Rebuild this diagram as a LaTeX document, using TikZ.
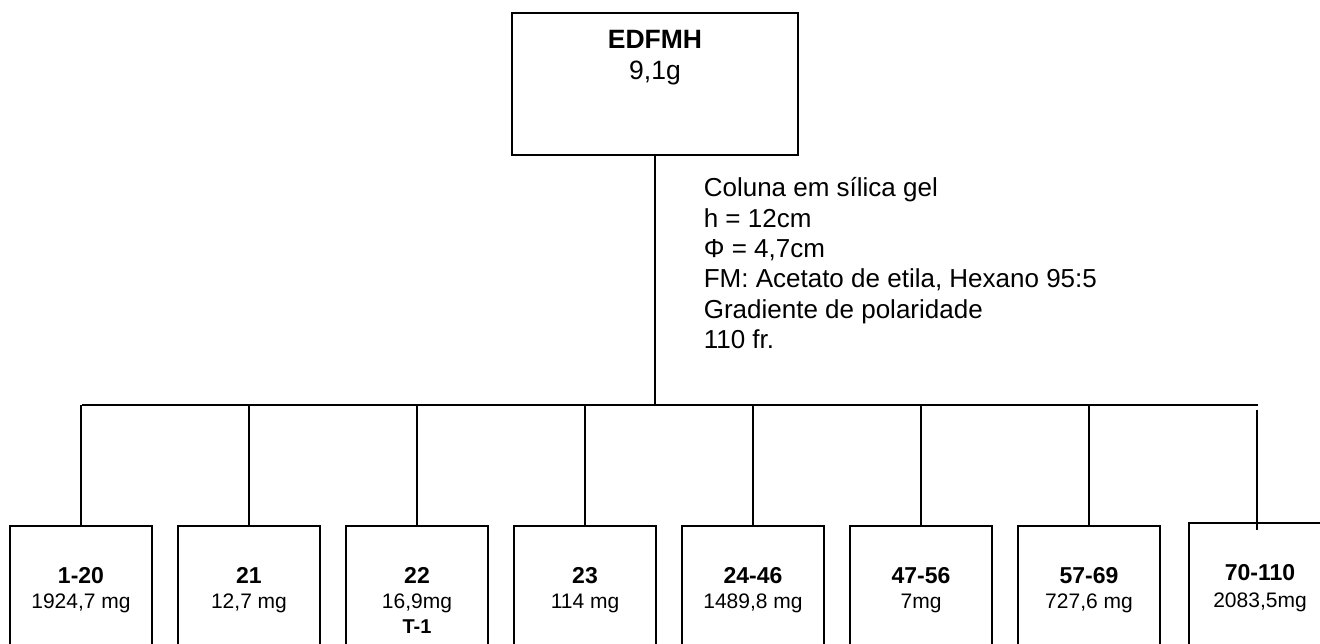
\documentclass[tikz,border=0pt]{standalone}
\usepackage{fontspec}
\setmainfont{Liberation Sans}
\begin{document}
\begin{tikzpicture}[x=1pt,y=-1pt,
  line width=1.6pt,
  box/.style={draw, line width=1.6pt, inner sep=0pt, minimum width=142pt, minimum height=140pt, anchor=north},
  big/.style={font=\fontsize{26}{30.3}\selectfont, inner sep=0pt},
  lab/.style={font=\fontsize{23}{26}\selectfont\bfseries, inner sep=0pt, anchor=base},
  val/.style={font=\fontsize{21}{25}\selectfont, inner sep=0pt, anchor=base},
  tag/.style={font=\fontsize{20}{24}\selectfont\bfseries, inner sep=0pt, anchor=base}]
\useasboundingbox (0,0) rectangle (1320,644);
\clip (0,0) rectangle (1320,644);
% top box
\node[draw, line width=1.6pt, minimum width=286pt, minimum height=142pt, inner sep=0pt] (top) at (655,84) {};
\node[big, anchor=base, font=\fontsize{26.5}{30.3}\selectfont\bfseries] (topa) at (655,49) {EDFMH};
\node[big, anchor=base, font=\fontsize{26.5}{30.3}\selectfont] (topb) at (655,80) {9,1g};
% column text
\foreach \t [count=\i from 0] in {Coluna em sílica gel, h = 12cm, Φ = 4{,}7cm, {FM: Acetato de etila, Hexano 95:5}, Gradiente de polaridade, 110 fr.}
  \node[big, anchor=base west] (col\i) at (703,197+30.3*\i) {\t};
% bus
\coordinate (busL) at (82,405);
\coordinate (busR) at (1258,405);
\coordinate (mid) at (655,405);
\draw (top.south) -- (mid);
\draw (busL) -- (busR);
% bottom boxes
\foreach \n/\a/\b [count=\k from 0] in {b1/1-20/{1924,7 mg}, b2/21/{12,7 mg}, b3/22/{16,9mg}, b4/23/{114 mg}, b5/24-46/{1489,8 mg}, b6/47-56/{7mg}, b7/57-69/{727,6 mg}} {
  \node[box] (\n) at (81+168*\k,525) {};
  \node[lab] (\n a) at (81+168*\k,583) {\a};
  \node[val] (\n b) at (81+168*\k,608) {\b};
  \draw (\n.north) -- (\n.north |- busL);
}
\node[tag] (b3c) at (417,633) {T-1};
% last box
\node[box] (b8) at (1260,522) {};
\node[lab] (b8a) at (1260,580) {70-110};
\node[val] (b8b) at (1260,607) {2083,5mg};
\coordinate (rtop) at (1257,410);
\coordinate (rbot) at (1257,530);
\draw (rtop) -- (rbot);
\end{tikzpicture}
\end{document}
